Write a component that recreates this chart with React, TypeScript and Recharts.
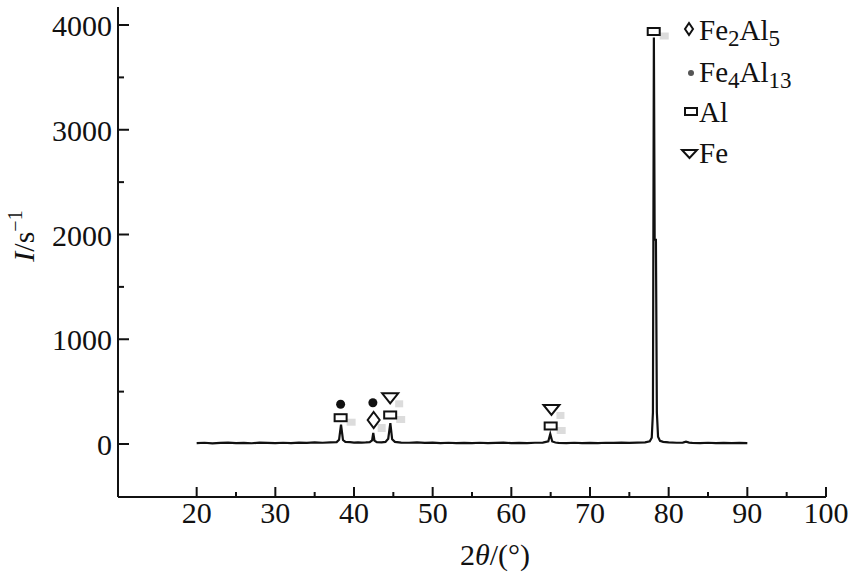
import React from 'react';
import { ComposedChart, Line, Scatter, XAxis, YAxis } from 'recharts';

const twoTheta = [
  20, 21, 22, 23, 24, 25, 26, 27, 28, 29, 30, 31, 32, 33, 34, 35, 36, 37, 37.8,
  38.1, 38.35, 38.6, 38.9, 39.5, 40, 40.5, 41, 41.5, 42, 42.3, 42.45, 42.6, 42.9,
  43.5, 44, 44.35, 44.62, 44.85, 45.2, 46, 47, 48, 49, 50, 51, 52, 53, 54, 55, 56,
  57, 58, 59, 60, 61, 62, 63, 64, 64.7, 64.95, 65.2, 65.6, 66, 67, 68, 69, 70, 71,
  72, 73, 74, 75, 76, 77, 77.6, 77.85, 78.0, 78.12, 78.22, 78.38, 78.5, 78.65,
  78.9, 79.3, 80, 81, 81.8, 82.2, 82.6, 83, 84, 85, 86, 87, 88, 89, 90,
];
const intensity = [
  8, 12, 6, 10, 14, 9, 11, 7, 13, 10, 8, 12, 9, 14, 11, 15, 12, 16, 18,
  40, 185, 38, 20, 17, 14, 16, 13, 15, 18, 35, 105, 33, 18,
  15, 20, 50, 200, 45, 20, 14, 12, 15, 10, 13, 9, 12, 8, 11, 9, 12,
  8, 10, 13, 9, 11, 8, 12, 14, 25, 95, 24, 14, 11, 9, 12, 8, 11, 9,
  12, 10, 13, 11, 14, 16, 25, 60, 300, 3880, 1950, 1950, 300, 70,
  30, 20, 15, 12, 14, 22, 13, 11, 9, 12, 8, 11, 9, 10, 8,
];

// Phase markers (2θ, marker height on intensity scale)
const fe2al5Theta = [42.5];
const fe2al5Level = [229];
const fe4al13Theta = [38.3, 42.4];
const fe4al13Level = [380, 394];
const alTheta = [38.3, 44.6, 65.0, 78.1];
const alLevel = [251, 277, 172, 3938];
const feTheta = [44.6, 65.1];
const feLevel = [436, 325];

const xTicks = [20, 25, 30, 35, 40, 45, 50, 55, 60, 65, 70, 75, 80, 85, 90, 95, 100];
const yTicks = [0, 500, 1000, 1500, 2000, 2500, 3000, 3500, 4000];

const pattern = twoTheta.map((t, i) => ({ x: t, y: intensity[i] }));
const toPts = (xs: number[], ys: number[]) => xs.map((t, i) => ({ x: t, y: ys[i] }));
const fe2al5Pts = toPts(fe2al5Theta, fe2al5Level);
const fe4al13Pts = toPts(fe4al13Theta, fe4al13Level);
const alPts = toPts(alTheta, alLevel);
const fePts = toPts(feTheta, feLevel);

const FONT = '"Liberation Serif", "Times New Roman", serif';
const INK = '#111';
const SHADOW = '#dcdcdc';

const XTick = (p: any) => {
  const { x, y, payload } = p;
  const major = payload.value % 10 === 0;
  return (
    <g>
      <line x1={x} y1={y} x2={x} y2={y - (major ? 10 : 5)} stroke={INK} strokeWidth={2} />
      {major && (
        <text x={x} y={y + 26} textAnchor="middle" fontSize={30} fontFamily={FONT} fill={INK}>
          {payload.value}
        </text>
      )}
    </g>
  );
};

const YTick = (p: any) => {
  const { x, y, payload } = p;
  const major = payload.value % 1000 === 0;
  return (
    <g>
      <line x1={x} y1={y} x2={x + (major ? 11 : 6)} y2={y} stroke={INK} strokeWidth={2} />
      {major && (
        <text x={x - 6} y={y + 11} textAnchor="end" fontSize={30} fontFamily={FONT} fill={INK}>
          {payload.value}
        </text>
      )}
    </g>
  );
};

const DiamondShape = (p: any) => {
  const { cx, cy } = p;
  return (
    <g>
      <rect x={cx + 4} y={cy + 4} width={8} height={8} fill={SHADOW} />
      <path d={`M${cx},${cy - 8} L${cx + 6},${cy} L${cx},${cy + 8} L${cx - 6},${cy} Z`} fill="#fff" stroke={INK} strokeWidth={2} />
    </g>
  );
};
const DotShape = (p: any) => {
  const { cx, cy } = p;
  return <circle cx={cx} cy={cy} r={4.5} fill={INK} />;
};
const RectShape = (p: any) => {
  const { cx, cy } = p;
  return (
    <g>
      <rect x={cx + 6} y={cy + 1} width={9} height={7} fill={SHADOW} />
      <rect x={cx - 6} y={cy - 3.5} width={12} height={7} fill="#fff" stroke={INK} strokeWidth={2} />
    </g>
  );
};
const TriShape = (p: any) => {
  const { cx, cy } = p;
  return (
    <g>
      <rect x={cx + 5} y={cy + 2} width={8} height={7} fill={SHADOW} />
      <path d={`M${cx - 8},${cy - 5} L${cx + 8},${cy - 5} L${cx},${cy + 5} Z`} fill="#fff" stroke={INK} strokeWidth={2} strokeLinejoin="miter" />
    </g>
  );
};

const Overlay = () => (
  <svg
    width={850}
    height={577}
    style={{ position: 'absolute', left: 0, top: 0, pointerEvents: 'none' }}
    fontFamily={FONT}
  >
    {/* legend */}
    <path d="M689,23 L693,29 L689,35 L685,29 Z" fill="none" stroke={INK} strokeWidth={2} />
    <text x={699} y={40} fontSize={29} fill={INK}>
      Fe<tspan fontSize={23} dy={6}>2</tspan>
      <tspan dy={-6}>Al</tspan>
      <tspan fontSize={23} dy={6}>5</tspan>
    </text>
    <circle cx={691} cy={73} r={3} fill="#555" />
    <text x={699} y={82} fontSize={29} fill={INK}>
      Fe<tspan fontSize={23} dy={6}>4</tspan>
      <tspan dy={-6}>Al</tspan>
      <tspan fontSize={23} dy={6}>13</tspan>
    </text>
    <rect x={685} y={108} width={12} height={7} fill="none" stroke={INK} strokeWidth={2} />
    <text x={699} y={122} fontSize={29} fill={INK}>Al</text>
    <path d="M682,150 L697,150 L689.5,158 Z" fill="none" stroke={INK} strokeWidth={2} />
    <text x={699} y={163} fontSize={29} fill={INK}>Fe</text>

    {/* axis titles */}
    <text x={495} y={565} textAnchor="middle" fontSize={30} fill={INK}>
      2<tspan fontStyle="italic">θ</tspan>/(°)
    </text>
    <text transform="translate(34,236) rotate(-90)" textAnchor="middle" fontSize={30} fill={INK}>
      <tspan fontStyle="italic">I</tspan>/s<tspan fontSize={20} dy={-12}>−1</tspan>
    </text>
  </svg>
);

export default function App() {
  return (
    <div style={{ position: 'absolute', left: 0, top: 0, width: 850, height: 577, background: '#fff' }}>
      <ComposedChart width={850} height={577} margin={{ top: 7, right: 24, bottom: 0, left: 0 }}>
        <XAxis
          type="number"
          dataKey="x"
          domain={[10, 100]}
          ticks={xTicks}
          interval={0}
          allowDataOverflow
          height={80}
          tickSize={0}
          tickMargin={0}
          tickLine={false}
          axisLine={{ stroke: INK, strokeWidth: 2 }}
          tick={<XTick />}
        />
        <YAxis
          type="number"
          dataKey="y"
          domain={[-506, 4172]}
          ticks={yTicks}
          interval={0}
          allowDataOverflow
          width={118}
          tickSize={0}
          tickMargin={0}
          tickLine={false}
          axisLine={{ stroke: INK, strokeWidth: 2 }}
          tick={<YTick />}
        />
        <Line
          data={pattern}
          dataKey="y"
          type="linear"
          stroke={INK}
          strokeWidth={2.2}
          dot={false}
          activeDot={false}
          isAnimationActive={false}
        />
        <Scatter data={alPts} dataKey="y" shape={RectShape} isAnimationActive={false} />
        <Scatter data={fe2al5Pts} dataKey="y" shape={DiamondShape} isAnimationActive={false} />
        <Scatter data={fe4al13Pts} dataKey="y" shape={DotShape} isAnimationActive={false} />
        <Scatter data={fePts} dataKey="y" shape={TriShape} isAnimationActive={false} />
      </ComposedChart>
      <Overlay />
    </div>
  );
}
